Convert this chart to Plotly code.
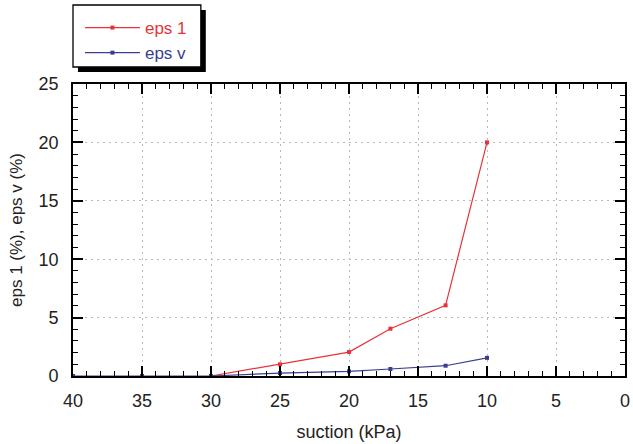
import plotly.graph_objects as go

# suction steps (kPa) and measured strains (%)
suction_v = [40, 35, 30, 25, 20, 17, 13, 10]
eps_v = [0, 0, 0, 0.25, 0.4, 0.6, 0.88, 1.55]
suction_1 = [30, 25, 20, 17, 13, 10]
eps_1 = [0, 1, 2.05, 4.05, 6.05, 20]

red = "#e8323a"
blue = "#3a3d91"
font = "Liberation Sans, Arial, sans-serif"

fig = go.Figure()
fig.add_trace(go.Scatter(x=suction_1, y=eps_1, mode="lines+markers",
                         name=f"<span style='color:{red}'>eps 1</span>",
                         line=dict(color=red, width=1.2),
                         marker=dict(symbol="square", size=4, color=red)))
fig.add_trace(go.Scatter(x=suction_v, y=eps_v, mode="lines+markers",
                         name=f"<span style='color:{blue}'>eps v</span>",
                         line=dict(color=blue, width=1.2),
                         marker=dict(symbol="square", size=4, color=blue)))

axis_common = dict(showline=True, linecolor="black", linewidth=1.8, mirror="ticks",
                   ticks="inside", ticklen=10, tickwidth=1.6, tickcolor="black",
                   showgrid=True, gridcolor="#b8b8b8", griddash="2px,4px", gridwidth=1,
                   zeroline=False, tickfont=dict(size=18, color="#222"),
                   ticklabeloverflow="allow")

fig.update_xaxes(range=[40, 0], dtick=5, title_text="suction (kPa)", title_standoff=16,
                 title_font=dict(size=18, color="#222"), ticklabelstandoff=7,
                 minor=dict(dtick=1, ticks="inside", ticklen=5, tickwidth=1.4,
                            tickcolor="black", showgrid=False),
                 **axis_common)
fig.update_yaxes(range=[0, 25], dtick=5, title_text="eps 1 (%), eps v (%)", title_standoff=12,
                 title_font=dict(size=17, color="#222"), ticklabelstandoff=9,
                 minor=dict(dtick=1, ticks="inside", ticklen=5, tickwidth=1.4,
                            tickcolor="black", showgrid=False),
                 **axis_common)

# legend frame with a drop shadow (pixel positions converted to paper units)
def px_x(p):
    return (p - 73) / 557

def px_y(p):
    return (376 - p) / 292

fig.add_shape(type="rect", xref="paper", yref="paper",
              x0=px_x(78), x1=px_x(207), y0=px_y(72), y1=px_y(10),
              fillcolor="black", line=dict(width=0), layer="above")
fig.add_shape(type="rect", xref="paper", yref="paper",
              x0=px_x(73), x1=px_x(202), y0=px_y(67), y1=px_y(5),
              fillcolor="white", line=dict(color="black", width=1.3), layer="above")

fig.update_layout(
    width=633, height=444,
    margin=dict(l=73, r=3, t=84, b=68),
    paper_bgcolor="white", plot_bgcolor="white",
    font=dict(family=font),
    legend=dict(x=px_x(80), y=px_y(10), xanchor="left", yanchor="top",
                bgcolor="rgba(0,0,0,0)", borderwidth=0,
                font=dict(size=17), tracegroupgap=0, itemwidth=55),
    showlegend=True,
)

fig.write_html("out.html")
